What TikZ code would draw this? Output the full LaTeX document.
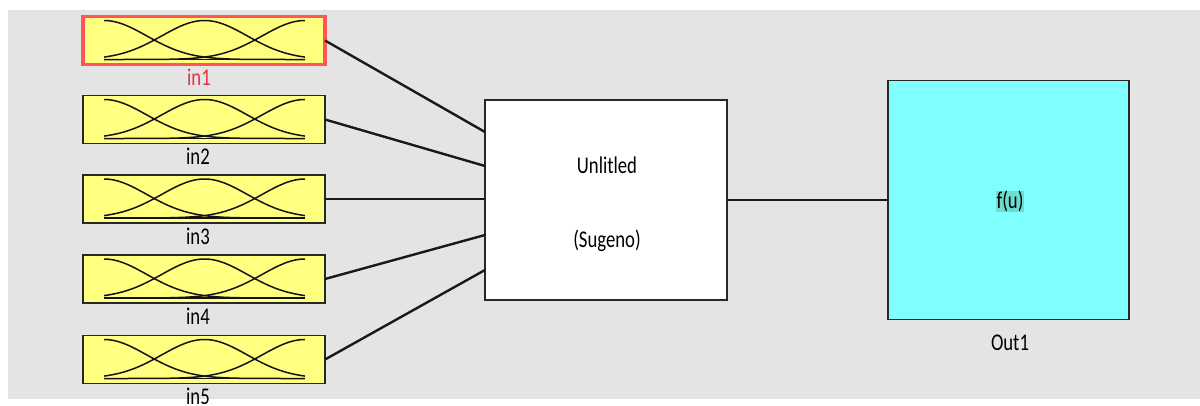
\documentclass[tikz,border=0pt]{standalone}
\usepackage{fontspec}
\newfontfamily\lblfont[FakeStretch=0.78]{Carlito}
\begin{document}
\begin{tikzpicture}[x=1pt,y=-1pt,
  panel/.style={fill={rgb,255:red,228;green,228;blue,228}, draw=none},
  inbox/.style={draw={rgb,255:red,40;green,40;blue,40}, line width=1.6pt,
    fill={rgb,255:red,255;green,255;blue,128}, minimum width=242pt,
    minimum height=48pt, inner sep=0pt, outer sep=0pt},
  selbox/.style={draw={rgb,255:red,255;green,85;blue,85}, line width=3.2pt},
  fisbox/.style={draw={rgb,255:red,40;green,40;blue,40}, line width=2.4pt,
    fill=white, minimum width=242pt, minimum height=200pt, inner sep=0pt, outer sep=0pt},
  outbox/.style={draw={rgb,255:red,40;green,40;blue,40}, line width=1.8pt,
    fill={rgb,255:red,128;green,255;blue,255}, minimum width=241pt,
    minimum height=239pt, inner sep=0pt, outer sep=0pt},
  lbl/.style={font=\lblfont\fontsize{24}{24}\selectfont, inner sep=0pt, text height=17pt, text depth=0pt},
  wire/.style={line width=2.4pt, draw={rgb,255:red,25;green,25;blue,25}},
  mf/.style={line width=1.5pt, draw={rgb,255:red,20;green,20;blue,20}},
  declare function={gss(\t,\m)=exp(-((\t-\m)^2)/0.09);}]

\useasboundingbox (0,0) rectangle (1200,405);
\fill[white] (0,0) rectangle (1200,405);
\path[panel] (8,10) rectangle (1200,399);

% input membership-function blocks
\foreach \k/\cy in {1/40.5,2/119.5,3/199,4/279,5/359.5}{
  \node[inbox] (in\k) at (204,\cy) {};
  \draw[mf] (104,\cy+19) -- (305,\cy+19);
  \foreach \m in {0,0.5,1}{
    \draw[mf] plot[domain=0:1, samples=80, smooth]
      ({104+201*\x},{\cy+19-39*gss(\x,\m)});
  }
}
\draw[selbox] (in1.south west) rectangle (in1.north east);

% input labels
\node[lbl, text={rgb,255:red,232;green,48;blue,58}, anchor=north] (l1) at ([xshift=-5pt,yshift=-4pt]in1.south) {in1};
\node[lbl, anchor=north] (l2) at ([xshift=-6pt,yshift=-4pt]in2.south) {in2};
\node[lbl, anchor=north] (l3) at ([xshift=-6pt,yshift=-4pt]in3.south) {in3};
\node[lbl, anchor=north] (l4) at ([xshift=-6pt,yshift=-4pt]in4.south) {in4};
\node[lbl, anchor=north] (l5) at ([xshift=-6pt,yshift=-4pt]in5.south) {in5};

% inference system
\node[fisbox] (fis) at (606,200) {};
\node[lbl] (fname) at (607,156) [anchor=north] {Unlitled};
\node[lbl] (ftype) at (607,230) [anchor=north] {(Sugeno)};

% output block
\node[outbox] (out) at (1008.5,200) {};
\node[lbl, fill={rgb,255:red,108;green,222;blue,208}, inner xsep=1pt, text depth=4pt, anchor=north] (fu) at (1010,191) {f(u)};
\node[lbl, anchor=north] (oname) at (1010,333) {Out1};

% attachment points on the inference block
\coordinate (p1) at (fis.west |- 0,132);
\coordinate (p2) at (fis.west |- 0,166);
\coordinate (p3) at (fis.west |- 0,199);
\coordinate (p4) at (fis.west |- 0,235);
\coordinate (p5) at (fis.west |- 0,270);

\draw[wire] (in1.east) -- (p1);
\draw[wire] (in2.east) -- (p2);
\draw[wire] (in3.east) -- (p3);
\draw[wire] (in4.east) -- (p4);
\draw[wire] (in5.east) -- (p5);
\draw[wire] (fis.east) -- (out.west);
\end{tikzpicture}
\end{document}
